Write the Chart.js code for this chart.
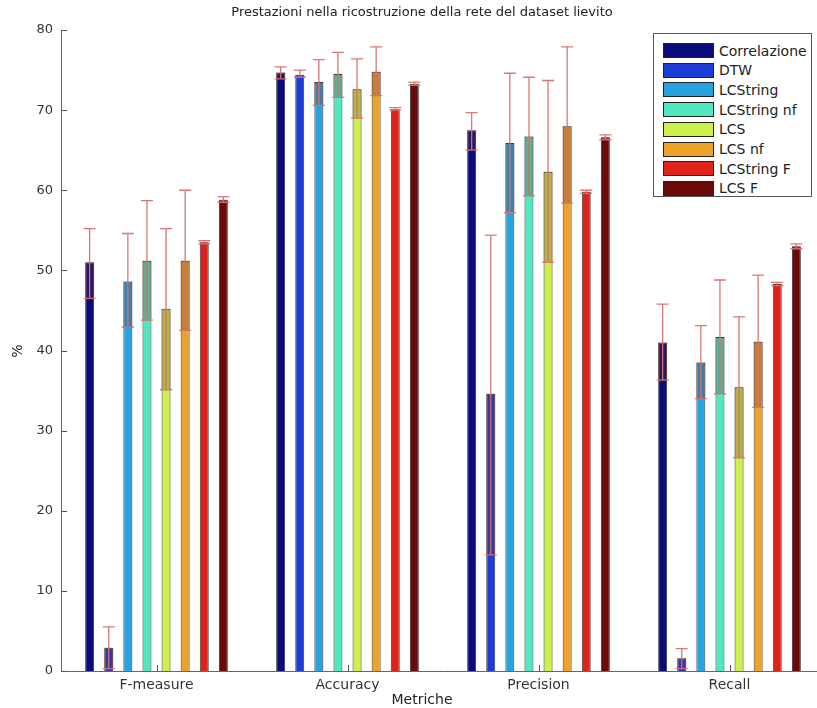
<!DOCTYPE html>
<html>
<head>
<meta charset="utf-8">
<script src="https://cdn.jsdelivr.net/npm/chart.js@4.4.1/dist/chart.umd.min.js"></script>
<style>
  html, body { margin: 0; padding: 0; background: #fff; overflow: hidden; width: 817px; height: 708px; }
  #wrap { position: relative; width: 817px; height: 708px; overflow: hidden; }
  canvas { position: absolute; left: 0; top: 0; }
  #legend { position: absolute; left: 653px; top: 33px; width: 157px; height: 162px;
    border: 1px solid #555; background: #fff; font-family: "DejaVu Sans", sans-serif; font-size: 14px; color: #222; }
  .row { position: absolute; left: 9px; height: 15px; display: flex; align-items: center; white-space: nowrap; }
  .sw { width: 49px; height: 13px; border: 1px solid #222; margin-right: 5px; flex: none; }
</style>
</head>
<body>
<div id="wrap">
  <canvas id="c" width="825" height="708"></canvas>
  <div id="legend"></div>
</div>
<script>
// ---- data ----
const chartTitle = "Prestazioni nella ricostruzione della rete del dataset lievito";
const xAxisTitle = "Metriche";
const yAxisTitle = "%";
const categories = ["F-measure", "Accuracy", "Precision", "Recall"];
const seriesNames = ["Correlazione", "DTW", "LCString", "LCString nf", "LCS", "LCS nf", "LCString F", "LCS F"];
const seriesColors = ["#0b0b7a", "#1c3cd6", "#27a3e0", "#4fe8c0", "#cdf04a", "#eea228", "#e0231a", "#6c0a0a"];

// values per series: [F-measure, Accuracy, Precision, Recall]
const correlazione = [51.0, 74.7, 67.5, 41.0];
const dtw          = [2.9, 74.4, 34.6, 1.6];
const lcstring     = [48.6, 73.5, 65.9, 38.5];
const lcstringNf   = [51.2, 74.5, 66.7, 41.7];
const lcs          = [45.2, 72.6, 62.3, 35.4];
const lcsNf        = [51.2, 74.8, 68.0, 41.1];
const lcstringF    = [53.5, 70.1, 59.8, 48.3];
const lcsF         = [58.8, 73.3, 66.6, 53.0];

// error bar lower / upper bounds per series
const correlazioneLow = [46.5, 73.9, 65.0, 36.3];
const correlazioneHigh = [55.2, 75.4, 69.7, 45.8];
const dtwLow  = [0.3, 74.1, 14.5, 0.3];
const dtwHigh = [5.5, 75.0, 54.4, 2.8];
const lcstringLow  = [42.9, 70.6, 57.2, 34.0];
const lcstringHigh = [54.6, 76.3, 74.6, 43.1];
const lcstringNfLow  = [43.8, 71.6, 59.3, 34.6];
const lcstringNfHigh = [58.7, 77.2, 74.1, 48.8];
const lcsLow  = [35.1, 69.0, 51.0, 26.6];
const lcsHigh = [55.2, 76.4, 73.7, 44.2];
const lcsNfLow  = [42.5, 71.8, 58.4, 32.9];
const lcsNfHigh = [60.0, 77.9, 77.9, 49.4];
const lcstringFLow  = [53.3, 70.0, 59.6, 48.1];
const lcstringFHigh = [53.7, 70.3, 60.0, 48.5];
const lcsFLow  = [58.5, 73.1, 66.3, 52.7];
const lcsFHigh = [59.2, 73.5, 66.9, 53.3];

const yTicks = [0, 10, 20, 30, 40, 50, 60, 70, 80];

const seriesValues = [correlazione, dtw, lcstring, lcstringNf, lcs, lcsNf, lcstringF, lcsF];
const seriesLow = [correlazioneLow, dtwLow, lcstringLow, lcstringNfLow, lcsLow, lcsNfLow, lcstringFLow, lcsFLow];
const seriesHigh = [correlazioneHigh, dtwHigh, lcstringHigh, lcstringNfHigh, lcsHigh, lcsNfHigh, lcstringFHigh, lcsFHigh];

// ---- legend (HTML) ----
const legendEl = document.getElementById('legend');
seriesNames.forEach((n, i) => {
  const r = document.createElement('div');
  r.className = 'row';
  r.style.top = (9 + i * 19.7) + 'px';
  const s = document.createElement('div');
  s.className = 'sw';
  s.style.background = seriesColors[i];
  const t = document.createElement('span');
  t.textContent = n;
  r.appendChild(s); r.appendChild(t);
  legendEl.appendChild(r);
});

const FONT = '"DejaVu Sans", sans-serif';

const decorPlugin = {
  id: 'decor',
  afterDatasetsDraw(chart) {
    const ctx = chart.ctx;
    const x = chart.scales.x, y = chart.scales.y;
    ctx.save();
    // error bars
    chart.data.datasets.forEach((ds, di) => {
      const meta = chart.getDatasetMeta(di);
      meta.data.forEach((el, i) => {
        const lo = seriesLow[di][i], hi = seriesHigh[di][i];
        const v = seriesValues[di][i];
        const yl = y.getPixelForValue(lo), yh = y.getPixelForValue(hi), yv = y.getPixelForValue(v);
        const half = el.width / 2;
        // tint of the bar part covered by the lower whisker
        if (yl > yv) {
          ctx.fillStyle = 'rgba(120,50,50,0.3)';
          ctx.fillRect(el.x - half, yv, el.width, yl - yv);
        }
        ctx.strokeStyle = 'rgba(214,112,112,0.95)';
        ctx.lineWidth = 1.3;
        ctx.beginPath();
        ctx.moveTo(el.x, yl); ctx.lineTo(el.x, yh);
        ctx.moveTo(el.x - 6, yh); ctx.lineTo(el.x + 6, yh);
        ctx.moveTo(el.x - 6, yl); ctx.lineTo(el.x + 6, yl);
        ctx.stroke();
      });
    });
    // inward ticks
    ctx.strokeStyle = '#555';
    ctx.lineWidth = 1;
    ctx.beginPath();
    yTicks.forEach(t => {
      const py = Math.round(y.getPixelForValue(t)) + 0.5;
      ctx.moveTo(x.left, py); ctx.lineTo(x.left + 6, py);
    });
    categories.forEach((c, i) => {
      const px = Math.round(x.getPixelForValue(i)) + 0.5;
      ctx.moveTo(px, y.bottom); ctx.lineTo(px, y.bottom - 6);
    });
    ctx.stroke();
    // titles
    ctx.fillStyle = '#222';
    ctx.textAlign = 'center';
    ctx.textBaseline = 'middle';
    ctx.font = '13px ' + FONT;
    ctx.fillText(chartTitle, 422, 13);
    ctx.font = '14px ' + FONT;
    ctx.fillText(xAxisTitle, 422, 700);
    ctx.save();
    ctx.translate(18, 351);
    ctx.rotate(-Math.PI / 2);
    ctx.fillText(yAxisTitle, 0, 0);
    ctx.restore();
    ctx.restore();
  }
};

new Chart(document.getElementById('c'), {
  type: 'bar',
  data: {
    labels: categories,
    datasets: seriesNames.map((n, i) => ({
      label: n,
      data: seriesValues[i],
      backgroundColor: seriesColors[i],
      borderColor: 'rgba(20,20,20,0.85)',
      borderWidth: 1,
      categoryPercentage: 0.8,
      barPercentage: 0.47
    }))
  },
  options: {
    responsive: false,
    animation: false,
    devicePixelRatio: 1,
    layout: { padding: { top: 30, left: 0, right: 0, bottom: 0 } },
    plugins: { legend: { display: false }, tooltip: { enabled: false }, title: { display: false } },
    scales: {
      x: {
        grid: { display: false, drawTicks: false },
        border: { color: '#666', width: 1 },
        ticks: { color: '#333', font: { family: FONT, size: 14 }, padding: 6, maxRotation: 0 },
        afterFit(s) { s.height = 37; }
      },
      y: {
        min: 0, max: 80,
        grid: { display: false, drawTicks: false },
        border: { color: '#666', width: 1 },
        ticks: { stepSize: 10, color: '#333', font: { family: FONT, size: 13 }, padding: 8 },
        afterFit(s) { s.width = 61; }
      }
    }
  },
  plugins: [decorPlugin]
});
</script>
</body>
</html>
